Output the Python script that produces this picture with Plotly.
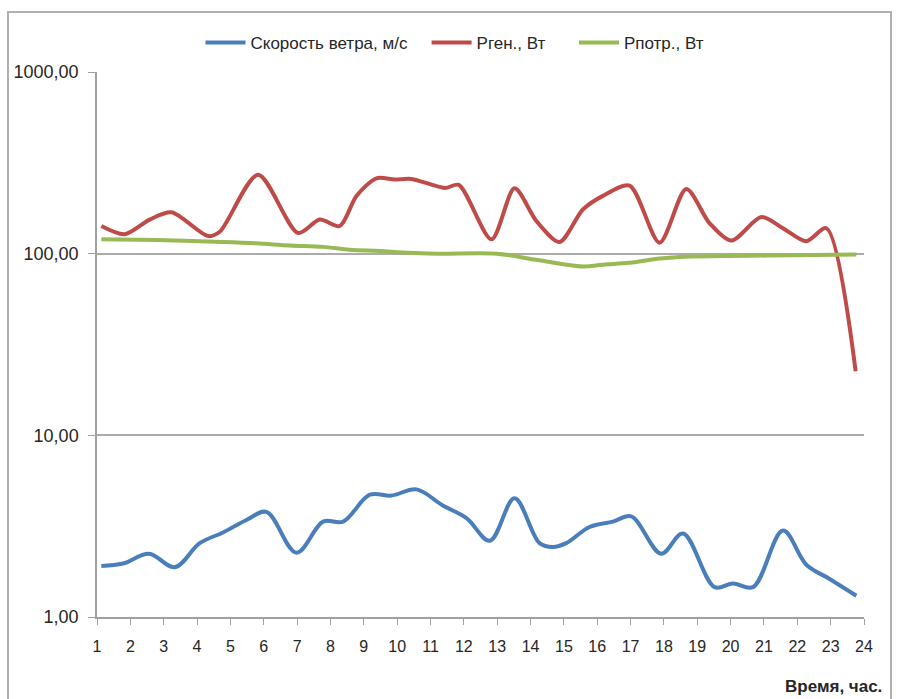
import plotly.graph_objects as go

# Hourly readings (time in hours)
wind_t = [1.13, 1.78, 2.56, 3.33, 4.08, 4.78, 5.48, 6.08, 6.98, 7.78, 8.38, 9.18, 9.83,
          10.58, 11.37, 12.08, 12.78, 13.52, 14.27, 14.67, 15.07, 15.77, 16.47, 17.02,
          17.92, 18.57, 19.52, 20.07, 20.67, 21.57, 22.27, 22.97, 23.77]
wind_speed = [1.91, 1.97, 2.23, 1.88, 2.55, 2.92, 3.42, 3.79, 2.26, 3.35, 3.35, 4.71, 4.66,
              5.04, 4.11, 3.50, 2.63, 4.50, 2.55, 2.43, 2.55, 3.13, 3.35, 3.58,
              2.23, 2.88, 1.46, 1.53, 1.46, 2.99, 1.94, 1.62, 1.31]

gen_t = [1.13, 1.83, 2.58, 3.23, 4.33, 4.68, 5.83, 7.03, 7.68, 8.28, 8.78, 9.38, 9.93,
         10.43, 11.43, 11.85, 12.83, 13.52, 14.18, 14.87, 15.57, 16.17, 16.97, 17.87,
         18.67, 19.37, 20.02, 20.92, 21.57, 22.27, 22.87, 23.75]
p_gen = [142, 128, 154, 169, 125, 132, 272, 130, 154, 142, 208, 260, 256,
         258, 230, 239, 120, 229, 151, 116, 175, 208, 237, 115,
         227, 147, 118, 159, 138, 117, 138, 22.5]

use_t = [1.13, 2.78, 4.78, 5.78, 6.78, 7.78, 8.58, 9.48, 10.18, 11.18, 12.98, 14.18,
         15.57, 16.17, 16.97, 17.87, 18.47, 19.87, 21.87, 23.77]
p_use = [120, 119, 116, 114, 111, 109, 105, 103.5, 101.5, 100, 100, 92.5,
         85, 87, 89, 94, 96, 97, 98, 99]

hours = list(range(1, 25))
y_ticks = [1, 10, 100, 1000]
y_tick_text = ["1,00", "10,00", "100,00", "1000,00"]

FONT = "Liberation Sans, Arial, sans-serif"
TEXT = "#262626"

fig = go.Figure()
fig.add_trace(go.Scatter(x=wind_t, y=wind_speed, mode="lines", name="Скорость ветра, м/с   ",
                         line=dict(color="#4A7EBB", width=4, shape="spline", smoothing=1.0)))
fig.add_trace(go.Scatter(x=gen_t, y=p_gen, mode="lines", name="Рген., Вт     ",
                         line=dict(color="#BE4B48", width=4, shape="spline", smoothing=0.8)))
fig.add_trace(go.Scatter(x=use_t, y=p_use, mode="lines", name="Рпотр., Вт",
                         line=dict(color="#98B954", width=4, shape="spline", smoothing=1.0)))

fig.update_layout(
    width=912, height=699,
    margin=dict(l=97, r=48, t=72, b=82, autoexpand=False),
    paper_bgcolor="white", plot_bgcolor="white",
    font=dict(family=FONT, size=17, color=TEXT),
    showlegend=True,
    legend=dict(orientation="h", x=455 / 912, xanchor="center", xref="container",
                y=1 - 43 / 699, yanchor="middle", yref="container",
                font=dict(size=17, color=TEXT), itemwidth=40,
                bgcolor="rgba(0,0,0,0)"),
    xaxis=dict(range=[1, 24], tickvals=hours, showgrid=False, zeroline=False,
               showline=True, linecolor="#A0A0A0", linewidth=1.5,
               ticks="outside", ticklen=6, tickcolor="#A0A0A0",
               ticklabelstandoff=8,
               tickfont=dict(size=16, color=TEXT)),
    yaxis=dict(type="log", range=[0, 3], tickvals=y_ticks, ticktext=y_tick_text,
               showgrid=True, gridcolor="#ABABAB", gridwidth=2, zeroline=False,
               showline=True, linecolor="#A0A0A0", linewidth=1.5,
               ticks="outside", ticklen=7, tickcolor="#A0A0A0",
               ticklabelstandoff=6,
               tickfont=dict(size=18, color=TEXT)),
)

# Chart frame around the whole figure
fig.add_shape(type="rect", xref="paper", yref="paper",
              x0=(8 - 97) / 767, x1=(891 - 97) / 767,
              y0=(617 - 720) / 545, y1=(617 - 12) / 545,
              line=dict(color="#B0B0B0", width=2), fillcolor="rgba(0,0,0,0)", layer="below")

# Axis title at lower right
fig.add_annotation(text="<b>Время, час.</b>", xref="paper", yref="paper",
                   x=(884 - 97) / 767, y=(617 - 686) / 545, xanchor="right", yanchor="middle",
                   showarrow=False, font=dict(size=17, color=TEXT, family=FONT))

fig.write_html("out.html")
